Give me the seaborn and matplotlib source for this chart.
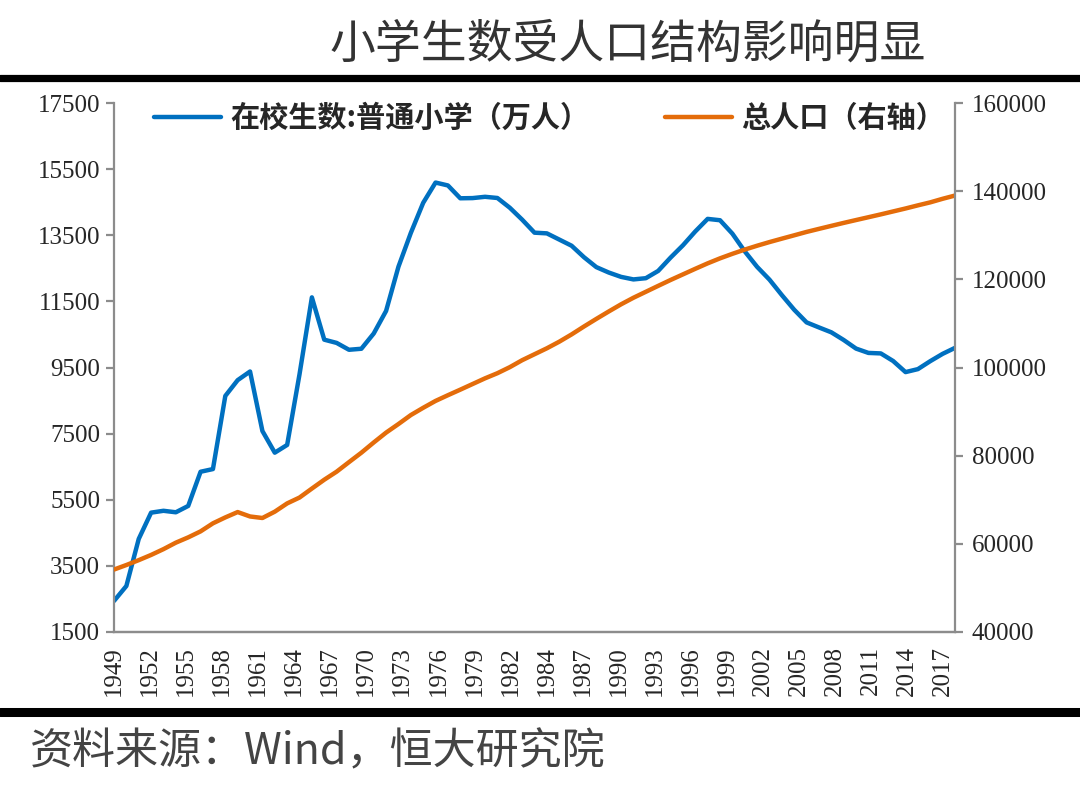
import numpy as np
import matplotlib
matplotlib.use('Agg')
import matplotlib.pyplot as plt
import seaborn as sns
from matplotlib.lines import Line2D

sns.set_style('white')
plt.rcParams['font.family'] = ['Noto Sans CJK SC', 'DejaVu Sans']

# data: 1949-2017
years = list(range(1949, 2018))
students = [2439, 2892, 4315, 5110, 5166, 5121, 5313, 6347, 6428, 8640,
            9118, 9379, 7579, 6924, 7158, 9295, 11621, 10342, 10244, 10036,
            10067, 10528, 11211, 12549, 13570, 14481, 15094, 15006, 14618, 14624,
            14663, 14627, 14333, 13972, 13578, 13557, 13370, 13183, 12836, 12536,
            12373, 12241, 12164, 12201, 12421, 12823, 13195, 13615, 13995, 13954,
            13548, 13013, 12544, 12157, 11690, 11246, 10864, 10712, 10564, 10332,
            10072, 9941, 9926, 9696, 9361, 9451, 9692, 9913, 10094]
population = [54167, 55196, 56300, 57482, 58796, 60266, 61465, 62828, 64653, 65994,
              67207, 66207, 65859, 67296, 69172, 70499, 72538, 74542, 76368, 78534,
              80671, 82992, 85229, 87177, 89211, 90859, 92420, 93717, 94974, 96259,
              97542, 98705, 100072, 101654, 103008, 104357, 105851, 107507, 109300, 111026,
              112704, 114333, 115823, 117171, 118517, 119850, 121121, 122389, 123626, 124761,
              125786, 126743, 127627, 128453, 129227, 129988, 130756, 131448, 132129, 132802,
              133450, 134091, 134735, 135404, 136072, 136782, 137462, 138271, 139008]
xtick_labels = ['1949', '1952', '1955', '1958', '1961', '1964', '1967', '1970',
                '1973', '1976', '1979', '1982', '1984', '1987', '1990', '1993',
                '1996', '1999', '2002', '2005', '2008', '2011', '2014', '2017']

blue = '#0070C0'
orange = '#E46C0A'
axis_grey = '#8C8C8C'
tick_size = 18

fig = plt.figure(figsize=(10.8, 7.87), dpi=100)
ax = fig.add_axes([114/1080, 1-632/787, (955-114)/1080, (632-103)/787])
ax2 = ax.twinx()

sns.lineplot(x=years, y=students, ax=ax, color=blue, lw=3.2, label='在校生数:普通小学（万人）', legend=False)
sns.lineplot(x=years, y=population, ax=ax2, color=orange, lw=3.2, label='总人口（右轴）', legend=False)

ax.set_xlim(1949, 2017)
ax.set_ylim(1500, 17500)
ax.set_yticks(np.arange(1500, 17501, 2000))
ax2.set_ylim(40000, 160000)
ax2.set_yticks(np.arange(40000, 160001, 20000))

# excel-style category ticks: 70 slots, one tick every 3
tick_pos = 1949 + np.arange(0, 70, 3) * 68 / 70
ax.set_xticks(tick_pos)
ax.set_xticklabels(xtick_labels, rotation=90)

for a in (ax, ax2):
    a.set_xlabel('')
    a.set_ylabel('')
    a.spines['top'].set_visible(False)
    for s in ('left', 'right', 'bottom'):
        a.spines[s].set_color(axis_grey)
        a.spines[s].set_linewidth(1.6)
    a.tick_params(direction='out', length=6, width=1.6, color=axis_grey, labelsize=tick_size)
    for lab in a.get_xticklabels() + a.get_yticklabels():
        lab.set_fontfamily('Liberation Serif')
ax.spines['right'].set_visible(False)
ax2.spines['left'].set_visible(False)
ax.tick_params(axis='y', pad=4)
ax2.tick_params(axis='y', pad=6)
ax.tick_params(axis='x', pad=4)

h1, l1 = ax.get_legend_handles_labels()
h2, l2 = ax2.get_legend_handles_labels()
fig.legend(h1 + h2, l1 + l2, loc='center left', bbox_to_anchor=(128/1080, 1-118/787),
           ncol=2, frameon=False, handlelength=2.3, columnspacing=2.6, handletextpad=0.3,
           prop={'size': 21, 'weight': 'bold'})

fig.text(628/1080, 1-44/787, '小学生数受人口结构影响明显', ha='center', va='center',
         fontsize=33, color='#333333')
fig.add_artist(Line2D([0, 1], [1-77.5/787]*2, lw=5.2, color='black', transform=fig.transFigure))
fig.add_artist(Line2D([0, 1], [1-712/787]*2, lw=6.5, color='black', transform=fig.transFigure))
fig.text(30/1080, 1-752/787, '资料来源：Wind，恒大研究院', ha='left', va='center',
         fontsize=31, color='#444444')

fig.savefig('out.png', dpi=100)
